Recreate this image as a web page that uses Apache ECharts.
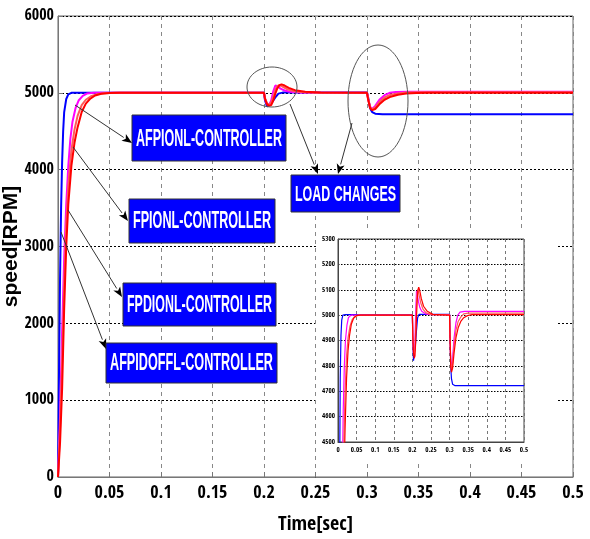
<!DOCTYPE html>
<html>
<head>
<meta charset="utf-8">
<script src="https://cdn.jsdelivr.net/npm/echarts@6/dist/echarts.min.js"></script>
<style>
  html, body { margin: 0; padding: 0; background: #fff; }
  #chart { width: 590px; height: 539px; }
</style>
</head>
<body>
<div id="chart"></div>
<script>
// ---------------- DATA ----------------
const blueT = [0, 0.001, 0.002, 0.003, 0.004, 0.005, 0.006, 0.008, 0.010, 0.013, 0.02, 0.1, 0.2, 0.201, 0.203, 0.205, 0.208, 0.211, 0.214, 0.218, 0.25, 0.3, 0.301, 0.302, 0.303, 0.305, 0.308, 0.315, 0.35, 0.4, 0.45, 0.5];
const blueV = [0, 1400, 2600, 3500, 4100, 4500, 4750, 4920, 4980, 5000, 5002, 5002, 5002, 4900, 4820, 4850, 4880, 4940, 4990, 5003, 5003, 5003, 4950, 4870, 4800, 4750, 4728, 4722, 4722, 4722, 4722, 4722];

const magT = [0, 0.002, 0.004, 0.006, 0.008, 0.010, 0.012, 0.014, 0.017, 0.020, 0.024, 0.028, 0.035, 0.05, 0.2, 0.201, 0.203, 0.205, 0.207, 0.209, 0.211, 0.213, 0.216, 0.22, 0.225, 0.235, 0.25, 0.3, 0.301, 0.303, 0.305, 0.308, 0.312, 0.317, 0.322, 0.328, 0.34, 0.4, 0.5];
const magV = [0, 800, 1900, 2850, 3550, 4050, 4400, 4620, 4800, 4900, 4960, 4990, 5000, 5000, 5000, 4920, 4850, 4840, 4900, 5020, 5095, 5085, 5055, 5030, 5015, 5005, 5002, 5002, 4930, 4820, 4790, 4830, 4910, 4970, 5000, 5012, 5015, 5015, 5015];

const salT = [0, 0.002, 0.004, 0.006, 0.008, 0.010, 0.013, 0.016, 0.019, 0.023, 0.027, 0.032, 0.038, 0.045, 0.055, 0.2, 0.201, 0.203, 0.205, 0.207, 0.209, 0.211, 0.213, 0.215, 0.218, 0.222, 0.228, 0.236, 0.25, 0.3, 0.301, 0.303, 0.305, 0.308, 0.312, 0.317, 0.323, 0.33, 0.338, 0.35, 0.4, 0.5];
const salV = [0, 650, 1500, 2500, 3300, 3800, 4250, 4520, 4700, 4840, 4910, 4955, 4982, 4995, 5000, 5000, 4930, 4860, 4845, 4870, 4950, 5040, 5090, 5100, 5080, 5050, 5025, 5010, 5002, 5000, 4930, 4815, 4785, 4810, 4880, 4940, 4975, 4992, 5005, 5008, 5008, 5008];

const redT = [0, 0.002, 0.004, 0.006, 0.008, 0.010, 0.013, 0.016, 0.019, 0.023, 0.027, 0.031, 0.036, 0.042, 0.05, 0.06, 0.2, 0.201, 0.203, 0.205, 0.207, 0.209, 0.211, 0.213, 0.215, 0.217, 0.22, 0.224, 0.23, 0.24, 0.255, 0.3, 0.301, 0.303, 0.305, 0.308, 0.312, 0.317, 0.323, 0.33, 0.338, 0.348, 0.36, 0.4, 0.5];
const redV = [0, 450, 1150, 2200, 3000, 3550, 4050, 4350, 4550, 4750, 4860, 4920, 4965, 4988, 4998, 5000, 5000, 4920, 4850, 4830, 4840, 4900, 4990, 5060, 5100, 5110, 5095, 5065, 5035, 5015, 5003, 5000, 4920, 4800, 4775, 4790, 4850, 4910, 4950, 4975, 4990, 4998, 5002, 5002, 5002];

const seriesColors = ['#0000ff', '#ff00ff', '#ff5a5a', '#ff0000'];
const xRange = [0, 0.5], xStep = 0.05;
const yRange = [0, 6000], yStep = 1000;
const insetYRange = [4500, 5300], insetYStep = 100;

const boxLabels = ['AFPIONL-CONTROLLER', 'FPIONL-CONTROLLER', 'FPDIONL-CONTROLLER', 'AFPIDOFFL-CONTROLLER', 'LOAD CHANGES'];
const xTitle = 'Time[sec]';
const yTitle = 'speed[RPM]';

// ---------------- BUILD ----------------
function zip(t, v) { return t.map((x, i) => [x, v[i]]); }
const allData = [zip(blueT, blueV), zip(magT, magV), zip(salT, salV), zip(redT, redV)];

const NARROW = "'Open Sans Condensed', 'Roboto Condensed', sans-serif";
const plain = v => String(Math.round(v * 1000) / 1000);

const series = [];
allData.forEach((d, i) => {
  series.push({
    type: 'line', data: d, xAxisIndex: 0, yAxisIndex: 0, showSymbol: false,
    lineStyle: { color: seriesColors[i], width: 2 }, z: 2, animation: false, silent: true
  });
});
allData.forEach((d, i) => {
  series.push({
    type: 'line', data: d, xAxisIndex: 1, yAxisIndex: 1, showSymbol: false, clip: true,
    lineStyle: { color: seriesColors[i], width: 1.2 }, z: 8, animation: false, silent: true
  });
});

// annotation helpers
const measureCtx = document.createElement('canvas').getContext('2d');
function textBox(x, y, w, h, label, fontSize) {
  const font = 'bold ' + fontSize + 'px "Liberation Sans", Arial, sans-serif';
  measureCtx.font = font;
  const tw = measureCtx.measureText(label).width;
  const sx = (w - 8) / tw;
  return {
    type: 'group', z: 20,
    children: [
      { type: 'rect', shape: { x: x, y: y, width: w, height: h }, style: { fill: '#0000ff', stroke: '#333', lineWidth: 1 }, z: 20 },
      { type: 'text', x: x + w / 2, y: y + h / 2 + 1, scaleX: sx, z: 21,
        style: { text: label, fill: '#fff', font: font, align: 'center', verticalAlign: 'middle' } }
    ]
  };
}
function arrow(x1, y1, x2, y2) {
  const ang = Math.atan2(y2 - y1, x2 - x1);
  const L = 10, W = 4;
  const bx = x2 - L * Math.cos(ang), by = y2 - L * Math.sin(ang);
  const px = -Math.sin(ang) * W, py = Math.cos(ang) * W;
  return {
    type: 'group', z: 19,
    children: [
      { type: 'line', shape: { x1: x1, y1: y1, x2: bx, y2: by }, style: { stroke: '#333', lineWidth: 1 }, z: 19 },
      { type: 'polygon', shape: { points: [[x2, y2], [bx + px, by + py], [bx + L * 0.25 * Math.cos(ang), by + L * 0.25 * Math.sin(ang)], [bx - px, by - py]] }, style: { fill: '#000' }, z: 19 }
    ]
  };
}

const graphics = [
  { type: 'rect', shape: { x: 318, y: 228, width: 238, height: 235 }, style: { fill: '#fff' }, z: 3 },
  { type: 'ellipse', shape: { cx: 272, cy: 87, rx: 25, ry: 20 }, style: { fill: 'none', stroke: '#555', lineWidth: 1 }, z: 18 },
  { type: 'ellipse', shape: { cx: 378, cy: 101, rx: 30, ry: 56 }, style: { fill: 'none', stroke: '#555', lineWidth: 1 }, z: 18 },
  arrow(75, 105, 132, 143),
  arrow(73, 147, 128, 221),
  arrow(68, 210, 122, 297),
  arrow(61, 232, 106, 349),
  arrow(290, 104, 318, 174),
  arrow(352, 123, 338, 174),
  textBox(132, 115, 154, 46, boxLabels[0], 24),
  textBox(129, 199, 146, 44, boxLabels[1], 23),
  textBox(123, 283, 153, 43, boxLabels[2], 23),
  textBox(106, 343, 171, 40, boxLabels[3], 23),
  textBox(291, 175, 109, 37, boxLabels[4], 22)
];

const chart = echarts.init(document.getElementById('chart'), null, { renderer: 'canvas' });
chart.setOption({
  animation: false,
  backgroundColor: '#fff',
  grid: [
    { left: 58, right: 17, top: 16, bottom: 62, show: true, borderColor: '#666', borderWidth: 1, z: 0, containLabel: false, outerBoundsMode: 'none' },
    { left: 338, top: 239, width: 186, height: 203, show: true, borderColor: '#444', borderWidth: 1, backgroundColor: '#fff', z: 4, containLabel: false, outerBoundsMode: 'none' }
  ],
  xAxis: [
    {
      type: 'value', gridIndex: 0, min: xRange[0], max: xRange[1], interval: xStep, z: 1,
      name: xTitle, nameLocation: 'middle', nameGap: 38, nameMoveOverlap: false,
      nameTextStyle: { fontFamily: NARROW, fontWeight: 'bold', fontSize: 20, color: '#000' },
      axisLine: { lineStyle: { color: '#777' } },
      axisTick: { inside: true, length: 5, lineStyle: { color: '#777' } },
      axisLabel: { fontFamily: NARROW, fontWeight: 'bold', fontSize: 18, color: '#000', margin: 7, formatter: plain },
      splitLine: { show: true, lineStyle: { color: '#888', type: [4, 4], width: 1 } }
    },
    {
      type: 'value', gridIndex: 1, min: xRange[0], max: xRange[1], interval: xStep, z: 5,
      axisLine: { lineStyle: { color: '#444' } },
      axisTick: { show: false },
      axisLabel: { fontFamily: NARROW, fontWeight: 'bold', fontSize: 7, color: '#000', margin: 5, formatter: plain },
      splitLine: { show: true, lineStyle: { color: '#777', type: [3, 3], width: 1 } }
    }
  ],
  yAxis: [
    {
      type: 'value', gridIndex: 0, min: yRange[0], max: yRange[1], interval: yStep, z: 1,
      name: yTitle, nameLocation: 'middle', nameGap: 36, nameMoveOverlap: false,
      nameTextStyle: { fontFamily: "'Liberation Sans', Arial, sans-serif", fontWeight: 'bold', fontSize: 21, color: '#000' },
      axisLine: { show: true, lineStyle: { color: '#777' } },
      axisTick: { show: true, inside: true, length: 5, lineStyle: { color: '#777' } },
      axisLabel: { fontFamily: NARROW, fontWeight: 'bold', fontSize: 16, color: '#000', margin: 4, formatter: plain },
      splitLine: { show: true, lineStyle: { color: '#000', type: [2, 2], width: 1 } }
    },
    {
      type: 'value', gridIndex: 1, min: insetYRange[0], max: insetYRange[1], interval: insetYStep, z: 5,
      axisLine: { show: true, lineStyle: { color: '#444' } },
      axisTick: { show: false },
      axisLabel: { fontFamily: NARROW, fontWeight: 'bold', fontSize: 7, color: '#000', margin: 3, formatter: plain },
      splitLine: { show: true, lineStyle: { color: '#000', type: [1.5, 1.5], width: 1 } }
    }
  ],
  series: series,
  graphic: graphics
});
</script>
</body>
</html>
